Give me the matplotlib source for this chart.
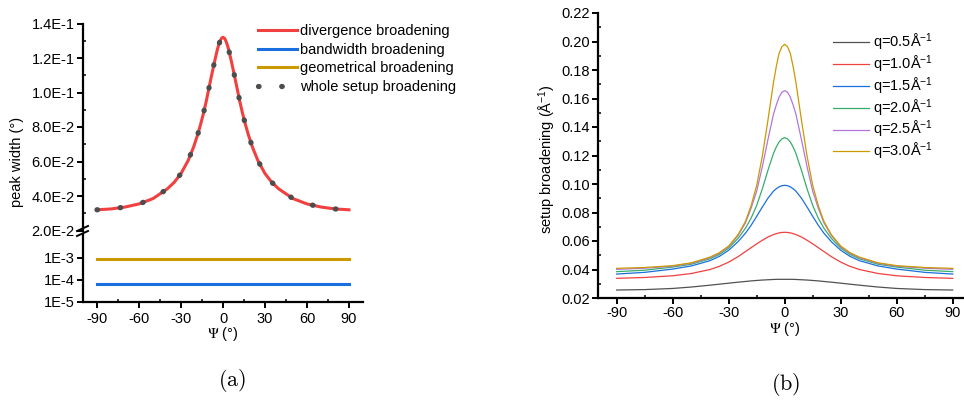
import math
import matplotlib
matplotlib.use('agg')
import matplotlib.pyplot as plt
from matplotlib.ticker import MultipleLocator, FixedLocator, FuncFormatter, NullLocator, FormatStrFormatter
from matplotlib.lines import Line2D

plt.rcParams['font.family'] = ['Liberation Sans', 'DejaVu Sans']
plt.rcParams['mathtext.fontset'] = 'custom'
plt.rcParams['mathtext.rm'] = 'Liberation Sans'
plt.rcParams['mathtext.it'] = 'Liberation Sans:italic'
plt.rcParams['mathtext.bf'] = 'Liberation Sans:bold'
plt.rcParams['axes.unicode_minus'] = False

# ---- panel (a): peak width vs psi ----
psi_a = [-90, -80, -70, -60, -50, -40, -35, -30, -25, -21, -18, -16, -14, -12, -10, -8, -6, -4, -3, -2, -1, 0,
         1, 2, 3, 4, 6, 8, 10, 12, 14, 16, 18, 21, 25, 30, 35, 40, 50, 60, 70, 80, 90]
divergence = [0.0320, 0.0325, 0.0336, 0.0354, 0.0385, 0.0440, 0.0478, 0.0530, 0.0604, 0.0684,
              0.0758, 0.0815, 0.0878, 0.0948, 0.1027, 0.1105, 0.1180, 0.1250, 0.1278, 0.1300,
              0.1315, 0.1320,
              0.1315, 0.1300, 0.1278, 0.1250, 0.1180, 0.1105, 0.1027, 0.0948, 0.0878, 0.0815,
              0.0758, 0.0684, 0.0604, 0.0530, 0.0478, 0.0440, 0.0385, 0.0354, 0.0336, 0.0325,
              0.0320]
whole_setup = divergence
psi_flat = [-90, 90]
bandwidth = [6.2e-5, 6.2e-5]
geometrical = [8.5e-4, 8.5e-4]

# ---- panel (b): setup broadening vs psi for several q ----
psi_b = [-90, -75, -60, -50, -40, -35, -30, -25, -21, -18, -15, -12, -9, -6, -4.5, -3, -1.5, 0,
         1.5, 3, 4.5, 6, 9, 12, 15, 18, 21, 25, 30, 35, 40, 50, 60, 75, 90]
q05 = [0.0256, 0.0259, 0.0267, 0.0277, 0.0290, 0.0297, 0.0304, 0.0311, 0.0316, 0.0320, 0.0323,
       0.0326, 0.0328, 0.0330, 0.0331, 0.0331, 0.0331, 0.0331,
       0.0331, 0.0331, 0.0331, 0.0330, 0.0328, 0.0326, 0.0323, 0.0320, 0.0316, 0.0311, 0.0304,
       0.0297, 0.0290, 0.0277, 0.0267, 0.0259, 0.0256]
q10 = [0.0338, 0.0344, 0.0356, 0.0372, 0.0400, 0.0422, 0.0452, 0.0490, 0.0526, 0.0553, 0.0580,
       0.0605, 0.0628, 0.0645, 0.0652, 0.0657, 0.0660, 0.0661,
       0.0660, 0.0657, 0.0652, 0.0645, 0.0628, 0.0605, 0.0580, 0.0553, 0.0526, 0.0490, 0.0452,
       0.0422, 0.0400, 0.0372, 0.0356, 0.0344, 0.0338]
q15 = [0.0368, 0.0380, 0.0403, 0.0425, 0.0462, 0.0492, 0.0535, 0.0595, 0.0655, 0.0710, 0.0773,
       0.0838, 0.0900, 0.0950, 0.0967, 0.0980, 0.0988, 0.0991,
       0.0988, 0.0980, 0.0967, 0.0950, 0.0900, 0.0838, 0.0773, 0.0710, 0.0655, 0.0595, 0.0535,
       0.0492, 0.0462, 0.0425, 0.0403, 0.0380, 0.0368]
q20 = [0.0385, 0.0395, 0.0417, 0.0437, 0.0475, 0.0505, 0.0550, 0.0618, 0.0690, 0.0760, 0.0850,
       0.0965, 0.1095, 0.1215, 0.1260, 0.1295, 0.1317, 0.1325,
       0.1317, 0.1295, 0.1260, 0.1215, 0.1095, 0.0965, 0.0850, 0.0760, 0.0690, 0.0618, 0.0550,
       0.0505, 0.0475, 0.0437, 0.0417, 0.0395, 0.0385]
q25 = [0.0401, 0.0409, 0.0423, 0.0443, 0.0482, 0.0513, 0.0560, 0.0638, 0.0728, 0.0830, 0.0950,
       0.1120, 0.1310, 0.1490, 0.1555, 0.1610, 0.1644, 0.1655,
       0.1644, 0.1610, 0.1555, 0.1490, 0.1310, 0.1120, 0.0950, 0.0830, 0.0728, 0.0638, 0.0560,
       0.0513, 0.0482, 0.0443, 0.0423, 0.0409, 0.0401]
q30 = [0.0408, 0.0414, 0.0427, 0.0447, 0.0487, 0.0518, 0.0565, 0.0644, 0.0738, 0.0848, 0.0990,
       0.1194, 0.1446, 0.1713, 0.1825, 0.1917, 0.1964, 0.1980,
       0.1964, 0.1917, 0.1825, 0.1713, 0.1446, 0.1194, 0.0990, 0.0848, 0.0738, 0.0644, 0.0565,
       0.0518, 0.0487, 0.0447, 0.0427, 0.0414, 0.0408]
q_labels = ['q=0.5Å$^{-1}$', 'q=1.0Å$^{-1}$', 'q=1.5Å$^{-1}$',
            'q=2.0Å$^{-1}$', 'q=2.5Å$^{-1}$', 'q=3.0Å$^{-1}$']
q_colors = ['#515151', '#F14040', '#1A6FDF', '#37AD6B', '#B177DE', '#CC9900']

W, H = 964, 401
FS = 10.5

def fx(px):
    return px / W

def fy(py):
    return 1 - py / H

def style(ax):
    for s in ['top', 'right']:
        ax.spines[s].set_visible(False)
    for s in ['left', 'bottom']:
        ax.spines[s].set_linewidth(1.6)
    ax.tick_params(which='major', direction='out', length=4, width=1.4, labelsize=FS, pad=2)
    ax.tick_params(which='minor', direction='in', length=2.5, width=1.1)

fig = plt.figure(figsize=(W / 100, H / 100), dpi=100)

ax_up = fig.add_axes([fx(83), fy(230.5), fx(363) - fx(83), fy(23.5) - fy(230.5)])
ax_lo = fig.add_axes([fx(83), fy(301.7), fx(363) - fx(83), fy(234) - fy(301.7)])
ax_b = fig.add_axes([fx(598), fy(298), 373.4 / W, fy(13) - fy(298)])

for ax in (ax_up, ax_lo, ax_b):
    style(ax)

# upper part of the broken axis (linear)
l_div, = ax_up.plot(psi_a, divergence, color='#F14040', lw=2.2, zorder=3)
l_all, = ax_up.plot(psi_a, whole_setup, color='#4d4d4d', lw=3.8, dashes=(0.1, 4.3),
                    dash_capstyle='round', zorder=4)
ax_up.set_xlim(-100, 100)
ax_up.set_ylim(0.02, 0.14)
ax_up.spines['bottom'].set_visible(False)
ax_up.tick_params(axis='x', which='both', bottom=False, labelbottom=False)
ax_up.yaxis.set_major_locator(MultipleLocator(0.02))
ax_up.yaxis.set_minor_locator(MultipleLocator(0.01))

def sci(v, pos):
    m, e = ('%.1E' % v).split('E')
    return '%sE%d' % (m, int(e))

ax_up.yaxis.set_major_formatter(FuncFormatter(sci))

# lower part (log)
l_bw, = ax_lo.plot(psi_flat, bandwidth, color='#1A6FDF', lw=2.2)
l_geo, = ax_lo.plot(psi_flat, geometrical, color='#CC9900', lw=2.2)
ax_lo.set_yscale('log')
ax_lo.set_xlim(-100, 100)
ax_lo.set_ylim(1e-5, 1.2e-2)
ax_lo.yaxis.set_major_locator(FixedLocator([1e-5, 1e-4, 1e-3]))
ax_lo.yaxis.set_minor_locator(NullLocator())
ax_lo.yaxis.set_major_formatter(FuncFormatter(lambda v, p: '1E%d' % round(math.log10(v))))
ax_lo.xaxis.set_major_locator(MultipleLocator(30))
ax_lo.xaxis.set_minor_locator(MultipleLocator(15))
ax_lo.tick_params(axis='x', which='major', pad=3.5)

# break marks on the y spine
for dy in (0, 5):
    fig.add_artist(Line2D([fx(77), fx(88)], [fy(231 + dy), fy(226 + dy)],
                          transform=fig.transFigure, color='black', lw=1.4))

ax_up.legend([l_div, l_bw, l_geo, l_all],
             ['divergence broadening', 'bandwidth broadening',
              'geometrical broadening', 'whole setup broadening'],
             loc='upper left', bbox_to_anchor=(fx(258), fy(24)), bbox_transform=fig.transFigure,
             frameon=False, borderpad=0, borderaxespad=0, handlelength=2.7,
             handletextpad=0.2, labelspacing=0.32, fontsize=FS)

fig.text(fx(17), fy(162), 'peak width (°)', rotation=90, ha='center', va='center', fontsize=FS)
fig.text(fx(223), fy(334), r'$\Psi$ (°)', ha='center', va='center', fontsize=FS, math_fontfamily='stix')
fig.text(fx(232), fy(381), r'$\mathrm{(a)}$', ha='center', va='center', fontsize=16, math_fontfamily='cm')

# ---- panel (b) ----
for vals, lab, col in zip([q05, q10, q15, q20, q25, q30], q_labels, q_colors):
    ax_b.plot(psi_b, vals, color=col, lw=0.9, label=lab)
ax_b.set_xlim(-100, 100)
ax_b.set_ylim(0.02, 0.22)
ax_b.xaxis.set_major_locator(MultipleLocator(30))
ax_b.xaxis.set_minor_locator(MultipleLocator(15))
ax_b.yaxis.set_major_locator(MultipleLocator(0.02))
ax_b.yaxis.set_minor_locator(MultipleLocator(0.01))
ax_b.yaxis.set_major_formatter(FormatStrFormatter('%.2f'))
ax_b.legend(loc='upper left', bbox_to_anchor=(fx(833), fy(32)), bbox_transform=fig.transFigure,
            frameon=False, borderpad=0, borderaxespad=0, handlelength=2.5,
            handletextpad=0.25, labelspacing=0.04, fontsize=FS)

fig.text(fx(547), fy(159), 'setup broadening (Å$^{-1}$)', rotation=90, ha='center', va='center', fontsize=FS)
fig.text(fx(785), fy(329), r'$\Psi$ (°)', ha='center', va='center', fontsize=FS, math_fontfamily='stix')
fig.text(fx(786), fy(384), r'$\mathrm{(b)}$', ha='center', va='center', fontsize=16, math_fontfamily='cm')

fig.savefig('out.png', dpi=100)
plt.close(fig)
